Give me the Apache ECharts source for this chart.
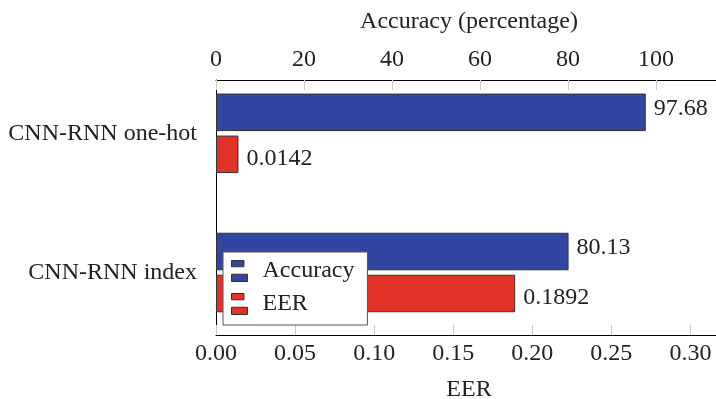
<!DOCTYPE html>
<html>
<head>
<meta charset="utf-8">
<script src="https://cdn.jsdelivr.net/npm/echarts@6/dist/echarts.min.js"></script>
<style>
  html, body { margin: 0; padding: 0; background: #fff; }
  #chart { width: 716px; height: 399px; }
</style>
</head>
<body>
<div id="chart"></div>
<script>
// Models compared
const categories = ['CNN-RNN one-hot', 'CNN-RNN index'];
// Accuracy in percent (top axis)
const accuracy = [97.68, 80.13];
// Equal error rate (bottom axis)
const eer = [0.0142, 0.1892];

const seriesNames = ['Accuracy', 'EER'];
const accuracyRange = [0, 115];
const eerRange = [0, 0.32];

const FONT = "'Liberation Serif', 'Times New Roman', serif";
const TEXT = '#222';
const BLUE = '#3246a1';
const RED = '#e03227';
const EDGE = '#333';

const chart = echarts.init(document.getElementById('chart'), null, { renderer: 'canvas' });

// two-bar legend glyph
const legendIcon = 'path://M0,0H12.7V6.4H0Z M0,14H16.3V21.4H0Z';

const frameTick = { show: true, inside: true, length: 10, lineStyle: { color: '#c8c8c8', width: 1 } };

chart.setOption({
  animation: false,
  backgroundColor: '#fff',
  grid: [
    // frame with the two value axes
    { left: 216, right: -6, top: 80, bottom: 64, containLabel: false, outerBoundsMode: 'none' },
    // bar area (same horizontal extent, categories spread over the frame)
    { left: 216, right: -6, top: 63.7, bottom: 56.9, containLabel: false, outerBoundsMode: 'none' }
  ],
  legend: {
    orient: 'vertical',
    left: 223,
    top: 252,
    padding: [7, 13, 9, 8],
    itemGap: 9,
    itemWidth: 16,
    itemHeight: 21,
    backgroundColor: '#fff',
    borderColor: '#555',
    borderWidth: 1,
    icon: legendIcon,
    itemStyle: { borderColor: EDGE, borderWidth: 1 },
    textStyle: { fontFamily: FONT, fontSize: 24, color: TEXT, padding: [0, 0, 0, 10] },
    data: seriesNames
  },
  xAxis: [
    {
      gridIndex: 0, type: 'value', position: 'top',
      min: accuracyRange[0], max: accuracyRange[1], interval: 20,
      name: 'Accuracy (percentage)', nameLocation: 'middle', nameGap: 46,
      nameTextStyle: { fontFamily: FONT, fontSize: 24, color: TEXT },
      axisLine: { show: true, onZero: false, lineStyle: { color: '#000', width: 1 } },
      axisTick: frameTick,
      axisLabel: { fontFamily: FONT, fontSize: 24, color: TEXT, margin: 8, showMaxLabel: false },
      splitLine: { show: false }
    },
    {
      gridIndex: 0, type: 'value', position: 'bottom',
      min: eerRange[0], max: eerRange[1], interval: 0.05,
      name: 'EER', nameLocation: 'middle', nameGap: 43,
      nameTextStyle: { fontFamily: FONT, fontSize: 24, color: TEXT },
      axisLine: { show: true, onZero: false, lineStyle: { color: '#000', width: 1 } },
      axisTick: frameTick,
      axisLabel: { fontFamily: FONT, fontSize: 24, color: TEXT, margin: 7, showMaxLabel: false,
                   formatter: v => v.toFixed(2) },
      splitLine: { show: false }
    },
    {
      gridIndex: 1, type: 'value', position: 'top',
      min: accuracyRange[0], max: accuracyRange[1],
      show: false, splitLine: { show: false }
    },
    {
      gridIndex: 1, type: 'value', position: 'bottom',
      min: eerRange[0], max: eerRange[1],
      show: false, splitLine: { show: false }
    }
  ],
  yAxis: [
    {
      gridIndex: 0, type: 'value', min: 0, max: 1,
      axisLine: { show: true, onZero: false, lineStyle: { color: '#000', width: 1 } },
      axisTick: { show: false }, axisLabel: { show: false }, splitLine: { show: false }
    },
    {
      gridIndex: 1, type: 'category', inverse: true, data: categories,
      axisLine: { show: false }, axisTick: { show: false }, splitLine: { show: false },
      axisLabel: { fontFamily: FONT, fontSize: 24, color: TEXT, margin: 19 }
    }
  ],
  series: [
    {
      name: seriesNames[0], type: 'bar', xAxisIndex: 2, yAxisIndex: 1,
      data: accuracy, barWidth: 37.5, barGap: '12%',
      itemStyle: { color: BLUE, borderColor: EDGE, borderWidth: 1 },
      label: {
        show: true, position: 'right', distance: 8, offset: [0, -4],
        fontFamily: FONT, fontSize: 24, color: TEXT,
        formatter: p => String(p.value)
      }
    },
    {
      name: seriesNames[1], type: 'bar', xAxisIndex: 3, yAxisIndex: 1,
      data: eer, barWidth: 37.5, barGap: '12%',
      itemStyle: { color: RED, borderColor: EDGE, borderWidth: 1 },
      label: {
        show: true, position: 'right', distance: 8, offset: [0, 4],
        fontFamily: FONT, fontSize: 24, color: TEXT,
        formatter: p => String(p.value)
      }
    }
  ]
});
</script>
</body>
</html>
